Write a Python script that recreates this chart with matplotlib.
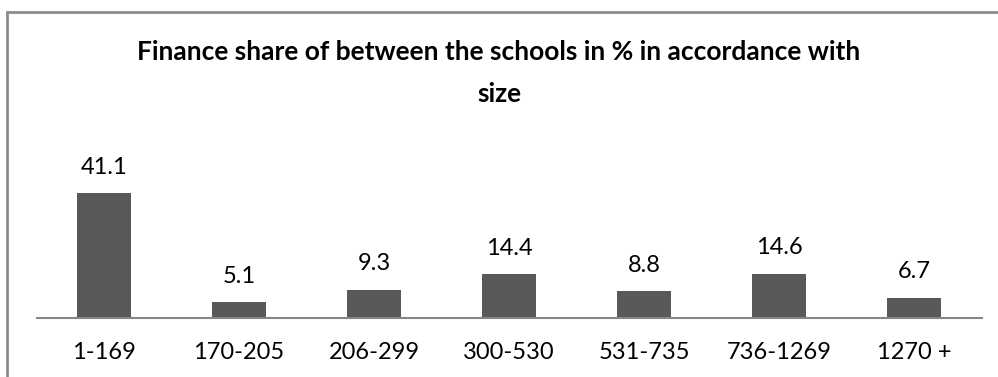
import matplotlib
matplotlib.use('Agg')
import matplotlib.pyplot as plt
from matplotlib.patches import Rectangle

plt.rcParams['font.family'] = ['Lato', 'DejaVu Sans']

sizes = ['1-169', '170-205', '206-299', '300-530', '531-735', '736-1269', '1270 +']
share = [41.1, 5.1, 9.3, 14.4, 8.8, 14.6, 6.7]

fig = plt.figure(figsize=(9.98, 3.77), dpi=100)
ax = fig.add_axes([0.0366, 0.1565, 0.9469, 0.578])

x = range(len(sizes))
bars = ax.bar(x, share, width=0.4, color='#595959', zorder=2)
for b, v in zip(bars, share):
    ax.annotate(f'{v}', (b.get_x() + b.get_width() / 2, v), xytext=(0, 11),
                textcoords='offset points', ha='center', va='bottom',
                fontsize=17, color='#000000')

ax.set_xlim(-0.5, len(sizes) - 0.5)
ax.set_ylim(0, 71.7)
ax.set_xticks(list(x))
ax.set_xticklabels(sizes, fontsize=17)
ax.tick_params(axis='x', length=0, pad=17)
ax.set_yticks([])
for s in ['left', 'right', 'top']:
    ax.spines[s].set_visible(False)
ax.spines['bottom'].set_color('#868686')
ax.spines['bottom'].set_linewidth(1.5)

fig.text(0.5, 0.806, 'Finance share of between the schools in % in accordance with\nsize',
         ha='center', va='center', fontsize=19, fontweight='bold', linespacing=1.9)

# chart frame, only its top and left edges fall inside the image
fig.patches.append(Rectangle((7 / 998, -0.1), 1.2, 1.1 - 12 / 377, transform=fig.transFigure,
                             fill=False, edgecolor='#8c8c8c', linewidth=2))

fig.savefig('out.png', dpi=100)
